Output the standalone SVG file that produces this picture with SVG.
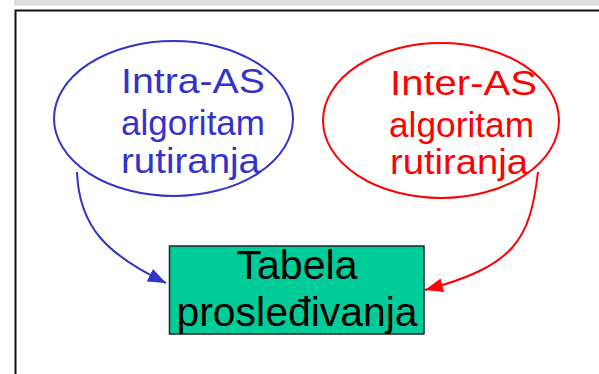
<svg xmlns="http://www.w3.org/2000/svg" width="599" height="374" viewBox="0 0 599 374">
<style>
.t{font-family:"Liberation Sans",Arial,sans-serif;font-size:35px}
.b{fill:#3333CC}
.r{fill:#FF0000}
.k{font-family:"Liberation Sans",Arial,sans-serif;font-size:40px;fill:#000;text-anchor:middle}
.con{fill:none;stroke-width:2}
</style>
<defs>
<marker id="ab" markerUnits="userSpaceOnUse" markerWidth="20" markerHeight="16" refX="18" refY="7" orient="auto"><path d="M0,0 L18,7 L0,14 Z" fill="#3333CC"/></marker>
<marker id="ar" markerUnits="userSpaceOnUse" markerWidth="20" markerHeight="16" refX="18" refY="7" orient="auto"><path d="M0,0 L18,7 L0,14 Z" fill="#FF0000"/></marker>
</defs>
<rect width="599" height="374" fill="#fff"/>
<rect x="14" y="0" width="585" height="5.5" fill="#dcdcdc"/>
<path d="M15.5,374 V10.5 H599" fill="none" stroke="#111" stroke-width="2"/>
<g id="connectors">
<path class="con" d="M77,172 C79,228 108,255 166,283" stroke="#3333CC" marker-end="url(#ab)"/>
<path class="con" d="M538,172 C530,240 515,266 425,290" stroke="#FF0000" marker-end="url(#ar)"/>
</g>
<g id="intra">
<ellipse cx="173.5" cy="118.5" rx="119.5" ry="77.5" fill="none" stroke="#3333CC" stroke-width="2"/>
<text class="t b" x="121" y="93" textLength="144" lengthAdjust="spacingAndGlyphs">Intra-AS</text>
<text class="t b" x="121" y="135" textLength="144" lengthAdjust="spacingAndGlyphs">algoritam</text>
<text class="t b" x="121" y="173" textLength="139" lengthAdjust="spacingAndGlyphs">rutiranja</text>
</g>
<g id="inter">
<ellipse cx="441" cy="120.5" rx="118" ry="77.5" fill="none" stroke="#FF0000" stroke-width="2"/>
<text class="t r" x="390" y="95" textLength="147" lengthAdjust="spacingAndGlyphs">Inter-AS</text>
<text class="t r" x="389" y="137" textLength="145" lengthAdjust="spacingAndGlyphs">algoritam</text>
<text class="t r" x="390" y="174" textLength="138" lengthAdjust="spacingAndGlyphs">rutiranja</text>
</g>
<g id="tabela">
<rect x="169.5" y="246" width="254.5" height="88" fill="#00CC99" stroke="#222" stroke-width="1.5"/>
<text class="k" x="297" y="279" textLength="121" lengthAdjust="spacingAndGlyphs">Tabela</text>
<text class="k" x="297" y="326" textLength="241" lengthAdjust="spacingAndGlyphs">prosleđivanja</text>
</g>
</svg>
